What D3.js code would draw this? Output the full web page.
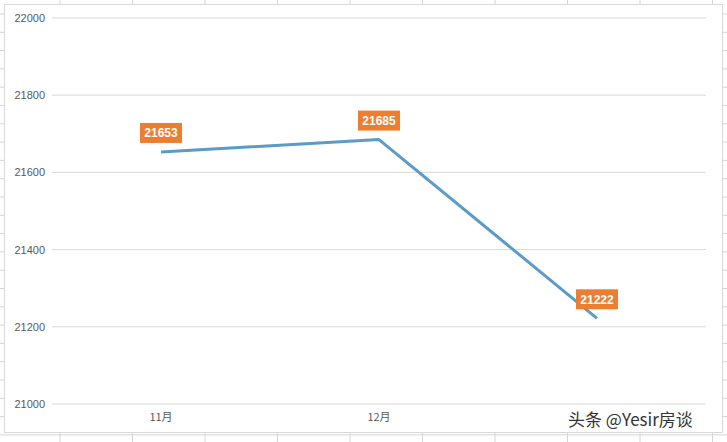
<!DOCTYPE html><html><head><meta charset="utf-8"><script src="https://cdn.jsdelivr.net/npm/d3@7"></script>
<style>body{margin:0;background:#fff}</style></head><body><svg id="c" width="727" height="442"></svg>
<script>
const categories=["11月","12月","1月"];
const values=[21653,21685,21222];
const yTicks=[21000,21200,21400,21600,21800,22000];
const svg=d3.select("#c");
const g0=svg.append("g").attr("stroke","#d4d4d4").attr("stroke-width",1);
for(let x=60;x<727;x+=72.5){g0.append("line").attr("x1",x).attr("x2",x).attr("y1",0).attr("y2",442);}
for(let y=14;y<442;y+=18.3){g0.append("line").attr("x1",0).attr("x2",727).attr("y1",y).attr("y2",y);}
svg.append("rect").attr("x",4.5).attr("y",4.5).attr("width",718).attr("height",428).attr("fill","#fff").attr("stroke","#d9d9d9");
const x=d3.scaleBand().domain(categories).range([52,706]);
const y=d3.scaleLinear().domain([21000,22000]).range([404,18]);
const ga=svg.append("g");
yTicks.forEach(t=>{ga.append("line").attr("x1",52).attr("x2",706).attr("y1",y(t)).attr("y2",y(t)).attr("stroke","#d9d9d9");});
svg.append("g").attr("transform","translate(48,0)").call(d3.axisLeft(y).tickValues(yTicks).tickSize(0).tickFormat(d3.format("d")))
 .call(g=>g.select(".domain").remove()).selectAll("text").attr("font-family","Liberation Sans, Arial").attr("font-size",11).attr("fill","#595959");
// last category label is covered by the watermark in the reference
svg.append("g").attr("transform","translate(0,410)").call(d3.axisBottom(x).tickSize(0).tickFormat((d,i)=>i===categories.length-1?"":d))
 .call(g=>g.select(".domain").remove()).selectAll("text").attr("font-family","Noto Sans CJK SC").attr("font-size",11).attr("fill","#595959");
const line=d3.line().x((d,i)=>x(categories[i])+x.bandwidth()/2).y(d=>y(d));
svg.append("path").attr("d",line(values)).attr("fill","none").attr("stroke","#5a9bc9").attr("stroke-width",3).attr("stroke-linejoin","round");
values.forEach((v,i)=>{const cx=x(categories[i])+x.bandwidth()/2,cy=y(v)-19;
 svg.append("rect").attr("x",cx-21).attr("y",cy-10).attr("width",42).attr("height",20).attr("fill","#ed7d31");
 svg.append("text").attr("x",cx).attr("y",cy+4.5).attr("text-anchor","middle").attr("font-family","Liberation Sans, Arial").attr("font-weight","bold").attr("font-size",12).attr("fill","#fff").text(v);});
svg.append("text").attr("x",568).attr("y",426).attr("font-family","Noto Sans CJK SC").attr("font-size",17).attr("fill","#333").text("头条 @Yesir房谈");
</script></body></html>
